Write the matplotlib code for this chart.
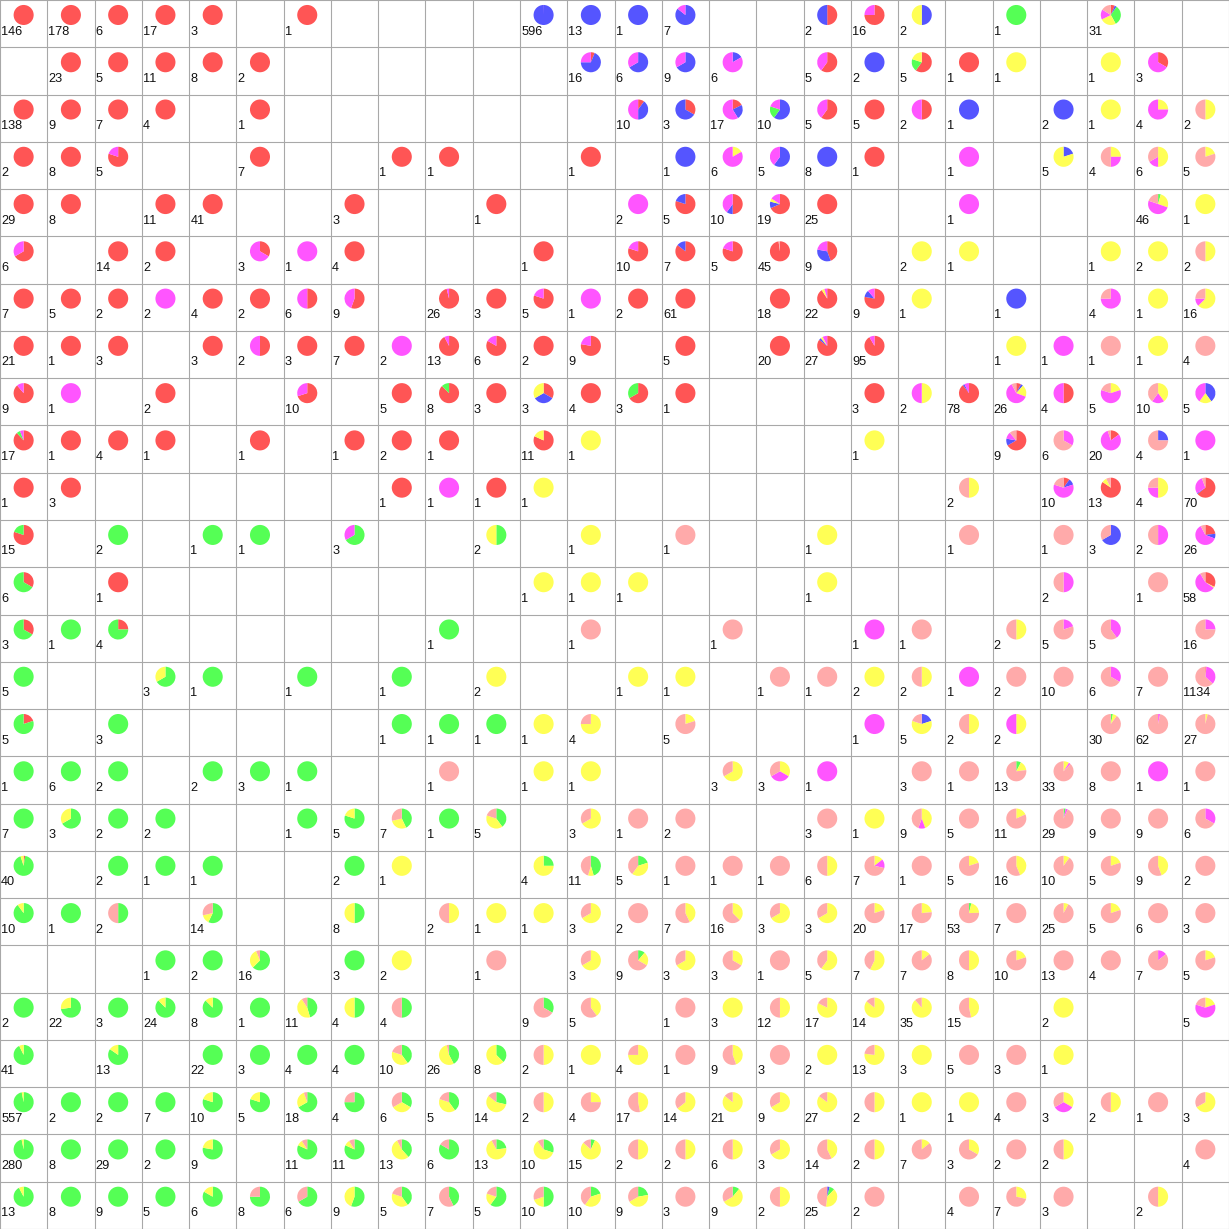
import re
import matplotlib
matplotlib.use("Agg")
import matplotlib.pyplot as plt
from matplotlib.patches import Wedge

# class order (clockwise from 12 o'clock) and colours
class_codes = ["R", "B", "G", "Y", "M", "P"]
class_colors = {"R": "#FF5555", "B": "#5555FF", "G": "#55FF55",
                "Y": "#FFFF55", "M": "#FF55FF", "P": "#FFAAAA"}

# each row: 26 cells; token = class counts (e.g. R3M2), "." = empty node
grid_rows = [
    "R146 R178 R6 R17 R3 . R1 . . . . B595M1 B13 B1 B6M1 . . R1B1 R12M4 B1Y1 . G1 . R2B1G10Y8M5P5 . .",
    ". R23 R5 R11 R8 R2 . . . . . . R1B11M4 B4M2 B6M3 B1M5 . R3M2 B2 R3G1Y1 R1 Y1 . Y1 R1M2 .",
    "R138 R9 R7 R4 . R1 . . . . . . . R1B4M5 R1B2 R3B4M10 B6G2M2 R3M2 R5 R1M1 B1 . B2 Y1 Y1M3 Y1P1",
    "R2 R8 R4M1 . . R7 . . R1 R1 . . R1 . B1 Y1M5 B3M2 B8 R1 . M1 . B1Y4 Y1M1P2 Y3M1P2 Y1P4",
    "R29 R8 . R11 R41 . . R3 . . R1 . . M2 R4B1 R5B1M4 R13B2Y1M3 R25 . . M1 . . . G2Y12M23P9 Y1",
    "R4M2 . R14 R2 . R1M2 M1 R4 . . . R1 . R8M2 R6B1 R4M1 R44P1 R4B3M2 . Y2 Y1 . . Y1 Y2 Y1P1",
    "R7 R5 R2 M2 R4 R2 R3M3 R5M4 . R25M1 R3 R4M1 M1 R2 R61 . R18 R20Y1M1 R7B1M1 Y1 . B1 . M3P1 Y1 Y10M2P4",
    "R21 R1 R3 . R3 R1M1 R3 R7 M2 R12M1 R5M1 R2 R7M2 . R5 . R20 R23B1Y1M2 R87M8 . . Y1 M1 P1 Y1 P4",
    "R8M1 M1 . R2 . . R7M3 . R5 R7G1 R3 R1B1Y1 R4 R2G1 R1 . . . R3 Y1M1 R70B2M6 R2B1Y5M16P2 R2M2 Y1M3P1 Y4M2P4 B2Y1M2",
    "R15G1M1 R1 R4 R1 . R1 . R1 R2 R1 . R9Y2 Y1 . . . . . Y1 . . R6B1M1P1 M2P4 R3M16P1 B1P3 M1",
    "R1 R3 . . . . . . R1 M1 R1 Y1 . . . . . . . . Y1P1 . R1B1M6P2 R11Y1P1 Y2M1P1 R45B1M20P4",
    "R12G3 . G2 . G1 G1 . G2M1 . . G1Y1 . Y1 . P1 . . Y1 . . P1 . P1 B2P1 M1P1 R6B2M16P2",
    "R2G4 . R1 . . . . . . . . Y1 Y1 Y1 . . . Y1 . . . . M1P1 . P1 R19Y1M33P5",
    "R1G2 G1 R1G3 . . . . . . G1 . . P1 . . P1 . . M1 P1 . Y1P1 M1P4 M2P3 . M4P12",
    "G5 . . G2Y1 G1 . G1 . G1 . Y2 . . Y1 Y1 . P1 P1 Y2 Y1P1 M1 P2 P10 M2P4 P7 R20M400P714",
    "R1G4 . G3 . . . . . G1 G1 G1 Y1 Y3P1 . Y1P4 . . . M1 B1Y3P1 Y1P1 Y1M1 . G1Y2P27 M2P60 Y1P26",
    "G1 G6 G2 . G2 G3 G1 . . P1 . Y1 Y1 . . Y2P1 Y1M1P1 M1 . P3 P1 G1Y2P10 Y3M1P29 P8 M1 P1",
    "G7 G2Y1 G2 G2 . . G1 G4Y1 G3Y2P2 G1 G2Y2P1 . Y2P1 P1 P2 . . P3 Y1 Y4M1P4 P5 Y2P9 G1M1P27 P9 P9 M2P4",
    "R1G37Y2 . G2 G1 G1 . . G2 Y1 . . G1Y3 G5Y1P5 G1Y2P2 P1 P1 P1 Y3P3 Y1M1P5 P1 Y1P4 Y7P9 Y1P9 Y1P4 Y4P5 P2",
    "G9Y1 G1 G1P1 . G8Y2P4 . . G4Y4 . Y1P1 Y1 Y1 Y2P1 P2 Y3P4 Y6P10 Y2P1 Y2P1 Y4P16 Y4P13 G2Y11P40 P7 Y2P23 Y1P4 P6 P3",
    ". . . G1 G2 G10Y5P1 . G3 Y2 . P1 . Y2P1 G1Y2P6 Y2P1 Y1P2 P1 Y3P2 Y4P3 Y1P6 Y4P4 Y2P8 P13 P4 M1P6 Y1P4",
    "G2 G16Y6 G3 G21Y3 G7Y1 G1 G5Y5P1 G2Y2 G2P2 . . G3P6 Y2P3 . P1 Y3 Y6P6 Y14P3 Y12P2 Y31P4 Y7P8 . Y2 . . Y1M3P1",
    "G38Y3 . G11Y2 . G22 G3 G4 G4 G4Y4P2 G11Y14P1 G3Y5 Y1P1 Y1 Y3P1 P1 Y4P5 P3 Y2 Y10P3 Y3 P5 P3 Y1 . . .",
    "G540Y17 G2 G2 G7 G8Y2 G4Y1 G12Y5P1 G3P1 G2Y2P2 G2Y2P1 G4Y8P2 Y1P1 Y1P3 Y8P9 Y9P5 Y18P3 Y6P3 Y23P4 Y1P1 Y1 Y1 P4 Y1M1P1 Y1P1 P1 Y2P1",
    "G271Y9 G8 G29 G2 G7Y2 . G9Y1P1 G9Y1P1 G5Y7P1 G5P1 G3Y9P1 G3Y6P1 G1Y12P2 Y1P1 Y1P1 Y3P3 Y2P1 Y6P8 Y1P1 Y1P6 Y1P2 P2 Y1P1 . . P4",
    "G12Y1 G8 G9 G5 G5Y1 G6P2 G4P2 G5Y4 G2Y2P1 G3P4 G3Y1P1 G5Y2P3 G2Y4P4 G2Y4P3 P3 G1Y5P3 Y1P1 B1G2Y10P12 P2 . P4 Y2P5 P3 . Y1P1 .",
]

n_rows = len(grid_rows)
n_cols = 26

fig = plt.figure(figsize=(12.29, 12.29), dpi=100)
ax = fig.add_axes([0, 0, 1, 1])
ax.set_xlim(0, n_cols)
ax.set_ylim(n_rows, 0)
ax.axis("off")

# grid
for k in range(n_cols + 1):
    ax.plot([k, k], [0, n_rows], color="#a8a8a8", lw=0.8, clip_on=False, zorder=1)
for k in range(n_rows + 1):
    ax.plot([0, n_cols], [k, k], color="#a8a8a8", lw=0.8, clip_on=False, zorder=1)

radius = 0.212
for r, row in enumerate(grid_rows):
    tokens = row.split()
    for c, tok in enumerate(tokens):
        if tok == ".":
            continue
        parts = dict((k, int(v)) for k, v in re.findall(r"([RBGYMP])(\d+)", tok))
        total = sum(parts.values())
        cx, cy = c + 0.5, r + 0.317
        cum = 0.0
        for code in class_codes:
            v = parts.get(code, 0)
            if v == 0:
                continue
            a0 = cum / total * 360.0
            cum += v
            a1 = cum / total * 360.0
            if v == total:
                w = Wedge((cx, cy), radius, 0, 360, facecolor=class_colors[code],
                          edgecolor="none", zorder=2)
            else:
                w = Wedge((cx, cy), radius, -90 + a0, -90 + a1,
                          facecolor=class_colors[code], edgecolor="none", zorder=2)
            ax.add_patch(w)
        ax.text(c + 0.025, r + 0.73, str(total), ha="left", va="baseline",
                fontsize=9.2, family=["Liberation Sans", "DejaVu Sans"],
                color="#111111", zorder=3)

fig.savefig("out.png", dpi=100)
